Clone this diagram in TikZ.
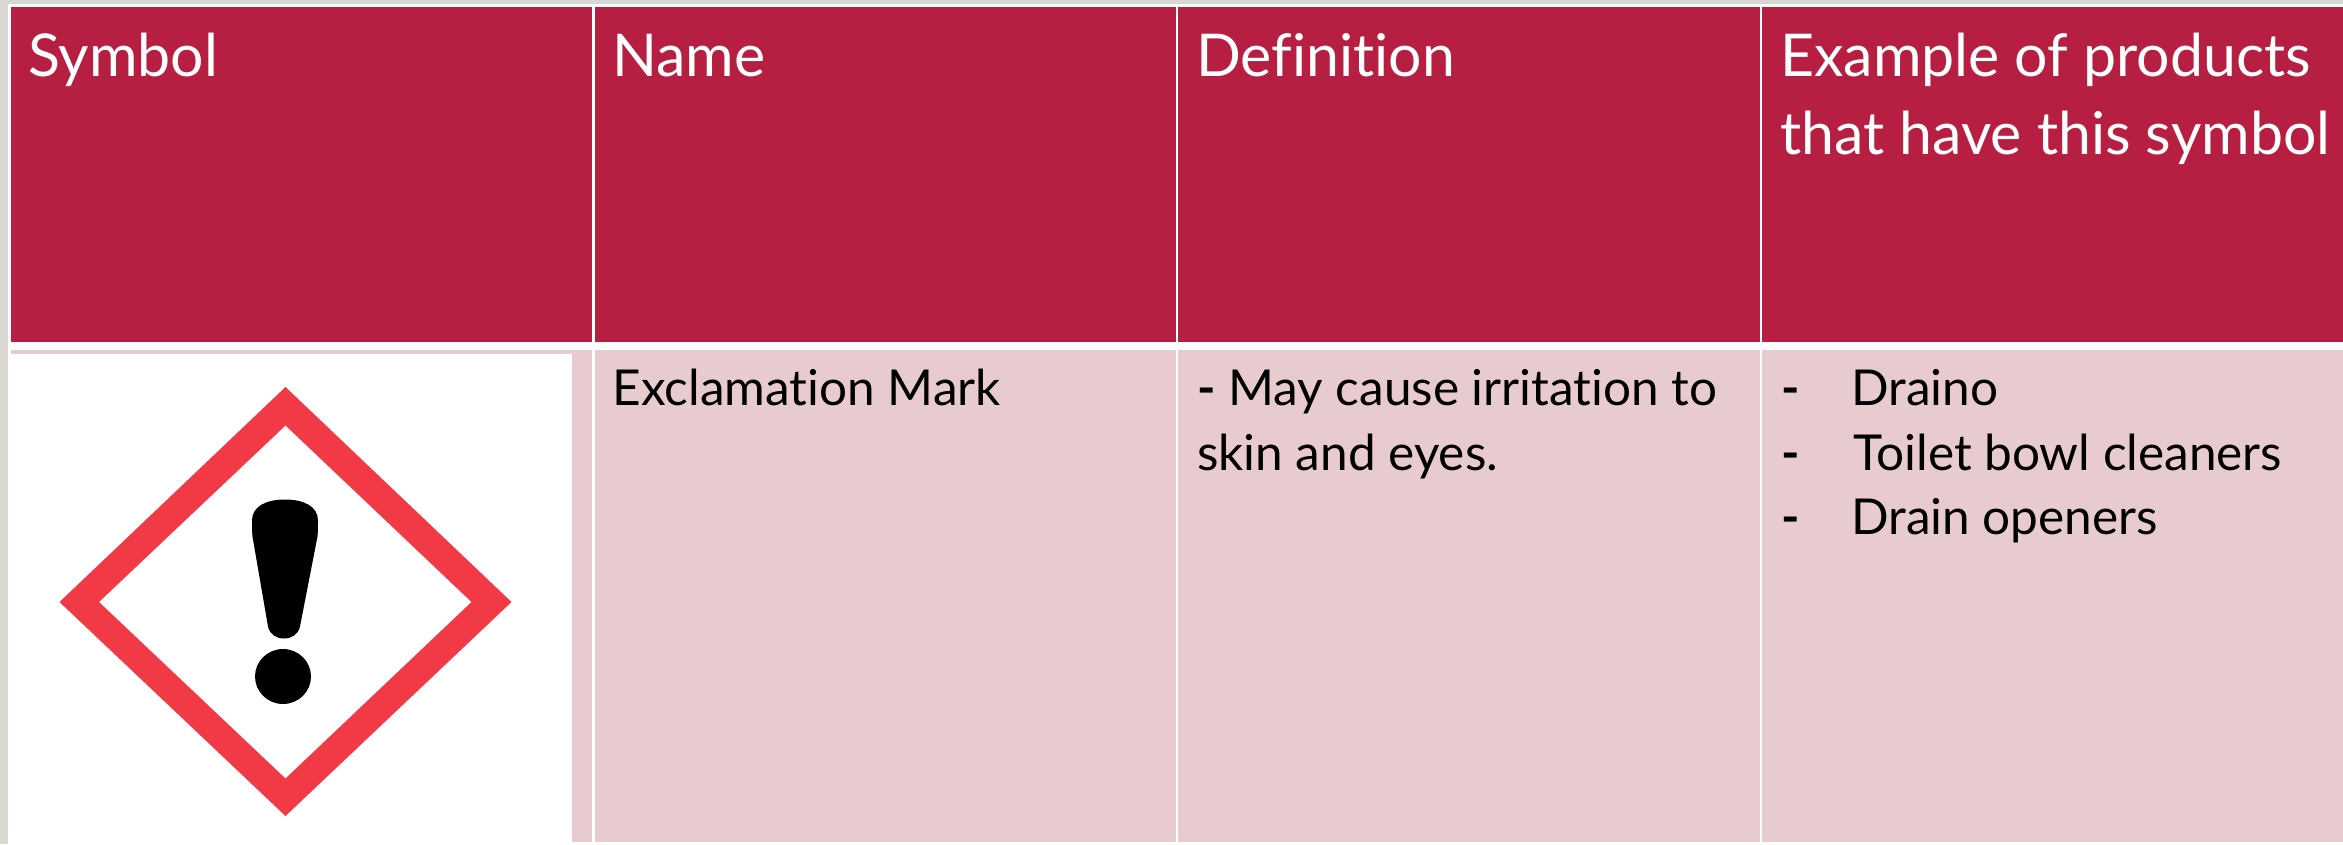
\documentclass[tikz,border=0pt]{standalone}
\usepackage{fontspec}
\setmainfont[Ligatures=NoCommon]{Lato}
\definecolor{hdr}{HTML}{B61F42}
\definecolor{pale}{HTML}{E7CBCF}
\definecolor{haz}{HTML}{F13A45}
\definecolor{edge}{HTML}{DAD7D2}
\tikzset{
  head/.style={anchor=base west,inner sep=0pt,text=white,font=\fontsize{59}{59}\selectfont},
  body/.style={anchor=base west,inner sep=0pt,text=black,font=\fontsize{49.5}{49.5}\selectfont},
  hcell/.style={fill=hdr,draw=none},
  bcell/.style={fill=pale,draw=none}
}
\begin{document}
\begin{tikzpicture}[x=1pt,y=-1pt]
\useasboundingbox (0,0) rectangle (2343,844);
\fill[white] (0,0) rectangle (2343,844);
\fill[edge] (0,0) rectangle (2343,4);
\fill[edge] (0,0) rectangle (8,844);
% header cells
\fill[hcell] (10.7,6.5) rectangle (592,341.5);
\fill[hcell] (594.5,6.5) rectangle (1175.5,341.5);
\fill[hcell] (1178,6.5) rectangle (1759.5,341.5);
\fill[hcell] (1762,6.5) rectangle (2343,341.5);
% body cells
\fill[bcell] (10.7,349.5) rectangle (592,842);
\fill[bcell] (594.5,349.5) rectangle (1175.5,842);
\fill[bcell] (1178,349.5) rectangle (1759.5,842);
\fill[bcell] (1762,349.5) rectangle (2343,842);
% symbol picture
\fill[white] (8,354) rectangle (572,844);
\fill[haz,even odd rule] (285.5,387) -- (511.5,602) -- (285.5,816) -- (59.5,602) -- cycle
  (285.5,425.5) -- (471.5,602) -- (285.5,778.5) -- (99,602) -- cycle;
\begin{scope}[yshift=-1.5pt]
\fill[black] (252,519)
  .. controls (252,505) and (266,498) .. (285,498) .. controls (304,498) and (318,505) .. (318,519)
  .. controls (318,525) and (318,530) .. (317.5,535)
  -- (300,625)
  .. controls (298,633) and (292,637) .. (284,637)
  .. controls (276,637) and (270,633) .. (268,625)
  -- (252.5,535)
  .. controls (252,530) and (252,525) .. (252,519) -- cycle;
\fill[black] (283,675) ellipse [x radius=28,y radius=27.5];
\end{scope}
% header text
\node[head] (h1) at (28,76) {Symbol};
\node[head] (h2) at (612,76) {Name};
\node[head] (h3) at (1196,76) {Definition};
\node[head] (h4a) at (1780,76) {Example of products};
\node[head] (h4b) at (1780,154) {that have this symbol};
% body text
\node[body] (n1) at (612.5,405) {Exclamation Mark};
\node[body] (d1) at (1197,405) {\textbf{-} May cause irritation to};
\node[body] (d2) at (1197,470) {skin and eyes.};
\node[body] (e1a) at (1781,405) {\textbf{-}};
\node[body] (e1b) at (1851,405) {Draino};
\node[body] (e2a) at (1781,470) {\textbf{-}};
\node[body] (e2b) at (1853,470) {Toilet bowl cleaners};
\node[body] (e3a) at (1781,534) {\textbf{-}};
\node[body] (e3b) at (1851,534) {Drain openers};
\end{tikzpicture}
\end{document}
